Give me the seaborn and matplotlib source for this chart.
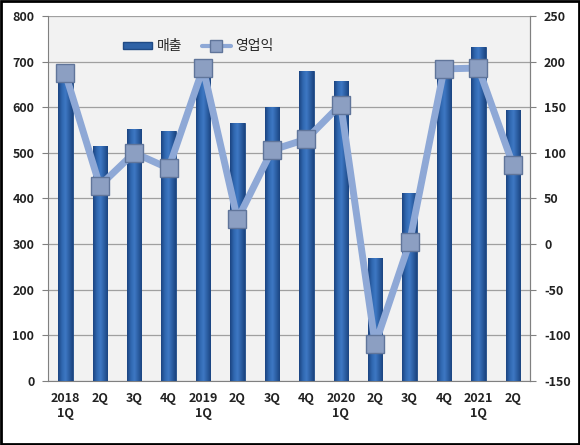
import matplotlib
matplotlib.use("Agg")
import matplotlib.pyplot as plt
import seaborn as sns
import pandas as pd
import numpy as np
from matplotlib.patches import Rectangle
from matplotlib.lines import Line2D
from matplotlib.ticker import FixedLocator
from matplotlib.colors import LinearSegmentedColormap

categories = ["2018\n1Q", "2Q", "3Q", "4Q", "2019\n1Q", "2Q", "3Q", "4Q",
              "2020\n1Q", "2Q", "3Q", "4Q", "2021\n1Q", "2Q"]
sales = [690, 515, 552, 548, 690, 565, 600, 680, 658, 270, 412, 690, 732, 594]
op_profit = [187, 64, 100, 83, 193, 27, 103, 115, 153, -110, 2, 192, 193, 87]

sns.set_style("white")
plt.rcParams['font.family'] = ['Noto Sans CJK KR', 'DejaVu Sans']
plt.rcParams['axes.unicode_minus'] = False

df = pd.DataFrame({"q": [f"{i}" for i in range(len(categories))],
                   "sales": sales, "op": op_profit})
df["pos"] = np.arange(len(categories))

fig = plt.figure(figsize=(5.8, 4.45), dpi=100)
ax = fig.add_axes([0.083, 0.144, 0.831, 0.820])
ax.set_facecolor("#F2F2F2")

sns.barplot(data=df, x="q", y="sales", color="#2E62A6", width=0.42,
            saturation=1, edgecolor="#1F4A85", linewidth=0.6, ax=ax, zorder=3)
ax.set_ylim(0, 800)
ax.set_xlim(-0.5, len(categories) - 0.5)

# horizontal gradient fill on each bar (clipped to the bar patch)
bar_cmap = LinearSegmentedColormap.from_list(
    "bar", ["#1B4480", "#2F66AE", "#3E78C4", "#2C5FA4", "#1B4480"])
grad = np.linspace(0, 1, 64).reshape(1, -1)
for p in list(ax.patches):
    x0, y0 = p.get_x(), p.get_y()
    w, h = p.get_width(), p.get_height()
    im = ax.imshow(grad, cmap=bar_cmap, extent=[x0, x0 + w, y0, y0 + h],
                   aspect="auto", zorder=3.5, interpolation="bilinear")
    im.set_clip_path(p)
ax.set_aspect("auto")
ax.set_ylim(0, 800)
ax.set_xlim(-0.5, len(categories) - 0.5)

ax.set_yticks(range(0, 801, 100))
ax.set_xticks(np.arange(len(categories)))
ax.set_xticklabels(categories)
ax.xaxis.set_minor_locator(FixedLocator(np.arange(-0.5, len(categories), 1)))
ax.tick_params(axis="x", which="major", length=0, pad=8)
ax.tick_params(axis="x", which="minor", length=4, color="#808080", direction="out")
ax.tick_params(axis="y", length=4, color="#808080", direction="out", pad=6)
ax.grid(axis="y", color="#A0A0A0", linewidth=0.9, zorder=0)
ax.set_axisbelow(True)
ax.set_xlabel("")
ax.set_ylabel("")
ax.spines["top"].set_visible(False)
for s in ["left", "bottom", "right"]:
    ax.spines[s].set_color("#808080")
for lab in ax.get_xticklabels() + ax.get_yticklabels():
    lab.set_fontsize(9)
    lab.set_fontweight("bold")
    lab.set_color("#222222")

ax2 = ax.twinx()
sns.lineplot(data=df, x="pos", y="op", ax=ax2, color="#8EA8D6", linewidth=5,
             marker="s", markersize=13, markerfacecolor="#8C9FC2",
             markeredgecolor="#60759A", markeredgewidth=1.0, zorder=5)
ax2.set_ylim(-150, 250)
ax2.set_yticks(range(-150, 251, 50))
ax2.set_xlim(-0.5, len(categories) - 0.5)
ax2.set_ylabel("")
ax2.set_xlabel("")
ax2.tick_params(axis="y", length=4, color="#808080", direction="out", pad=6)
for s in ["top", "left", "bottom"]:
    ax2.spines[s].set_visible(False)
ax2.spines["right"].set_color("#808080")
for lab in ax2.get_yticklabels():
    lab.set_fontsize(9)
    lab.set_fontweight("bold")
    lab.set_color("#222222")

handles = [Rectangle((0, 0), 1, 1, facecolor="#2E62A6", edgecolor="#1F4A85"),
           Line2D([0], [0], color="#8EA8D6", linewidth=3, marker="s",
                  markersize=9, markerfacecolor="#8C9FC2", markeredgecolor="#60759A")]
leg = ax2.legend(handles, ["매출", "영업익"], loc="upper left",
                 bbox_to_anchor=(0.13, 0.97), ncol=2, frameon=False,
                 fontsize=10, handlelength=2.1, handleheight=0.5,
                 columnspacing=1.4, handletextpad=0.3)

fig.patches.append(Rectangle((0.002, 0.002), 0.996, 0.996, transform=fig.transFigure,
                             fill=False, edgecolor="black", linewidth=2))
fig.savefig("out.png", dpi=100)
